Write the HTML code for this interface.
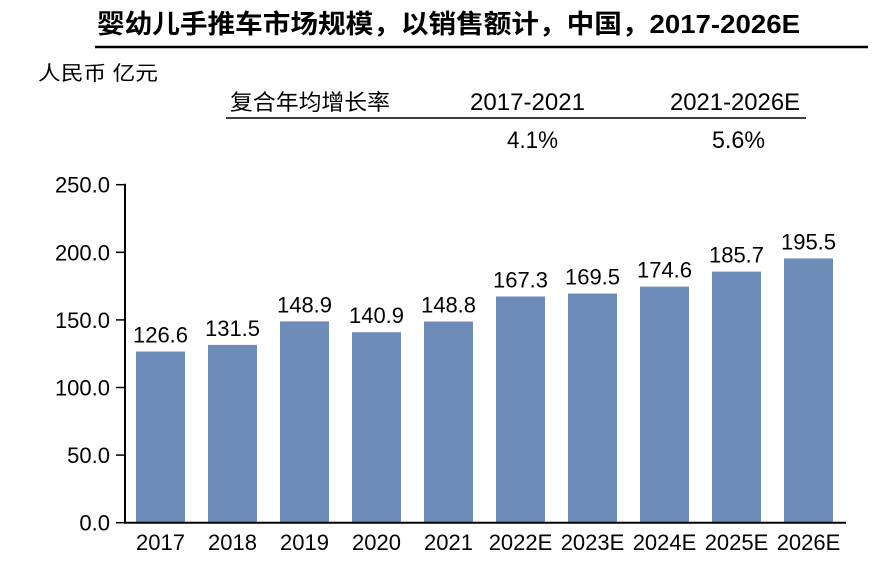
<!DOCTYPE html>
<html><head><meta charset="utf-8"><style>
body{margin:0;background:#fff;}
svg text{font-family:"Liberation Sans","Noto Sans CJK SC",sans-serif;}
</style></head><body>
<svg width="882" height="558" xmlns="http://www.w3.org/2000/svg">
<text x="97" y="33" font-size="26" font-weight="bold" textLength="703" lengthAdjust="spacingAndGlyphs">婴幼儿手推车市场规模，以销售额计，中国，2017-2026E</text>
<line x1="95" y1="47" x2="868" y2="47" stroke="#000" stroke-width="2.5"/>
<text x="38" y="80" font-size="20" textLength="120" lengthAdjust="spacingAndGlyphs">人民币 亿元</text>
<text x="230" y="110" font-size="22" textLength="160" lengthAdjust="spacingAndGlyphs">复合年均增长率</text>
<text x="470" y="110" font-size="24" textLength="115" lengthAdjust="spacingAndGlyphs">2017-2021</text>
<text x="670" y="110" font-size="24" textLength="130" lengthAdjust="spacingAndGlyphs">2021-2026E</text>
<line x1="226" y1="118" x2="806" y2="118" stroke="#000" stroke-width="1.5"/>
<text x="507" y="148" font-size="24" textLength="51" lengthAdjust="spacingAndGlyphs">4.1%</text>
<text x="712" y="148" font-size="24" textLength="53" lengthAdjust="spacingAndGlyphs">5.6%</text>
<g id="plot"></g>
</svg>
<script>
const categories=["2017","2018","2019","2020","2021","2022E","2023E","2024E","2025E","2026E"];
const values=[126.6,131.5,148.9,140.9,148.8,167.3,169.5,174.6,185.7,195.5];
const ticks=[0,50,100,150,200,250];
const tickLabels=["0.0","50.0","100.0","150.0","200.0","250.0"];
const NS="http://www.w3.org/2000/svg";
const g=document.getElementById('plot');
const y0=522.7,y1=184.7,yMax=250;
const yS=v=>y0-(v/yMax)*(y0-y1);
const xS=i=>160.5+i*72;
function mk(t,a,p){const e=document.createElementNS(NS,t);for(const k in a)e.setAttribute(k,a[k]);(p||g).appendChild(e);return e;}
values.forEach((v,i)=>{
 const r=mk('rect',{x:xS(i)-24.5,y:yS(v),width:49,height:y0-yS(v),fill:'#6d8cb8'});
 
 
 const t=mk('text',{x:xS(i),y:yS(v)-9,'text-anchor':'middle','font-size':'22'});
 t.textContent=v.toFixed(1);
 
 
 const c=mk('text',{x:xS(i),y:550,'text-anchor':'middle','font-size':'22'});
 c.textContent=categories[i];
 
 
});
ticks.forEach((v,i)=>{
 const l=mk('line',{x1:116,x2:125,y1:yS(v),y2:yS(v),stroke:'#000','stroke-width':1.5});
 
 
 const t=mk('text',{x:110,y:yS(v)+8,'text-anchor':'end','font-size':'22'});
 t.textContent=tickLabels[i];
 
 
});
const ya=mk('line',{x1:125,x2:125,y1:y1-1,y2:y0,stroke:'#000','stroke-width':2});


const xa=mk('line',{x1:124,x2:846,y1:y0,y2:y0,stroke:'#000','stroke-width':2});


</script>
</body></html>
